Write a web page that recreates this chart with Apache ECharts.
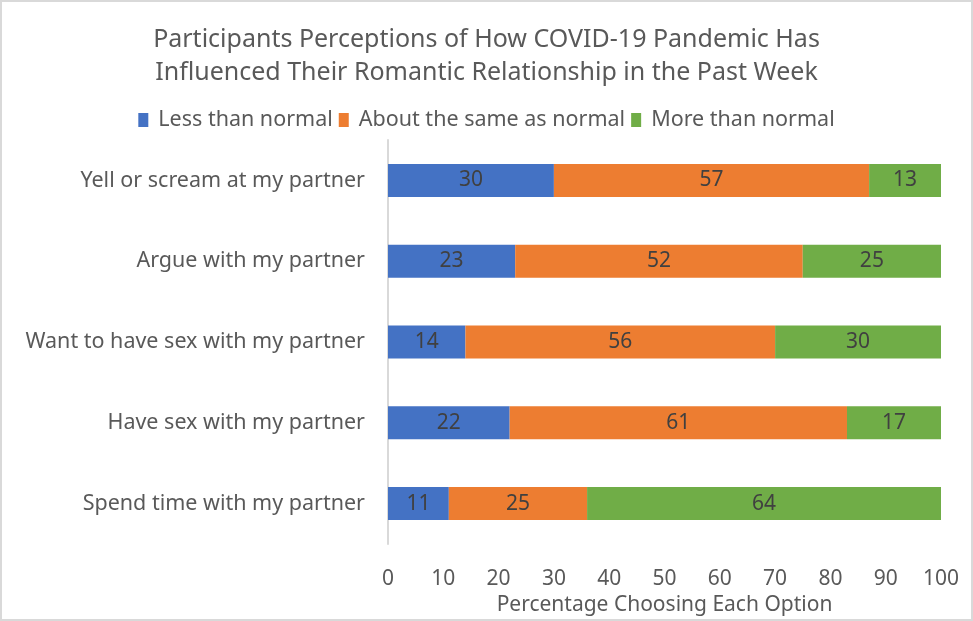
<!DOCTYPE html>
<html><head><meta charset="utf-8">
<script src="https://cdn.jsdelivr.net/npm/echarts@6/dist/echarts.min.js"></script>
<style>html,body{margin:0;padding:0;background:#fff}#c{width:973px;height:621px}</style>
</head><body><div id="c"></div>
<script>
var categories = ["Yell or scream at my partner","Argue with my partner","Want to have sex with my partner","Have sex with my partner","Spend time with my partner"];
var lessThanNormal = [30,23,14,22,11];
var aboutSame = [57,52,56,61,25];
var moreThanNormal = [13,25,30,17,64];
var seriesNames = ["Less than normal","About the same as normal","More than normal"];
var xTicks = {min:0,max:100,interval:10};

var FONT = "Noto Sans";
var TXT = "#595959";
var chart = echarts.init(document.getElementById('c'));
function s(name, data, color){
  return {name:name,type:'bar',stack:'all',data:data,barWidth:33,
    itemStyle:{color:color},
    label:{show:true,position:'inside',color:'#404040',fontFamily:FONT,fontSize:21},
    emphasis:{disabled:true}};
}
chart.setOption({
  animation:false,
  textStyle:{fontFamily:FONT},
  title:{text:"Participants Perceptions of How COVID-19 Pandemic Has\nInfluenced Their Romantic Relationship in the Past Week",
    left:'center',top:18,textStyle:{fontFamily:FONT,fontSize:25,fontWeight:'normal',color:TXT,lineHeight:33}},
  legend:{top:104,left:'center',itemWidth:10,itemHeight:14,itemGap:6,icon:'rect',
    textStyle:{fontFamily:FONT,fontSize:21.5,color:TXT,padding:[0,0,0,5]},data:seriesNames},
  grid:{left:388,right:32,top:140,bottom:77,outerBoundsMode:'none',containLabel:false},
  xAxis:{type:'value',min:xTicks.min,max:xTicks.max,interval:xTicks.interval,
    axisLine:{show:false},axisTick:{show:false},splitLine:{show:false},
    axisLabel:{fontFamily:FONT,fontSize:21,color:TXT,margin:25},
    name:"Percentage Choosing Each Option",nameLocation:'middle',nameGap:51,
    nameTextStyle:{fontFamily:FONT,fontSize:21,color:TXT}},
  yAxis:{type:'category',data:categories,inverse:true,
    axisLine:{show:true,lineStyle:{color:'#d9d9d9',width:2}},axisTick:{show:false},
    axisLabel:{fontFamily:FONT,fontSize:21.5,color:TXT,margin:23}},
  graphic:[{type:'rect',shape:{x:1,y:1,width:971,height:619},style:{fill:'none',stroke:'#d9d9d9',lineWidth:2},silent:true}],
  series:[s(seriesNames[0],lessThanNormal,'#4472C4'),s(seriesNames[1],aboutSame,'#ED7D31'),s(seriesNames[2],moreThanNormal,'#70AD47')]
});
</script></body></html>
